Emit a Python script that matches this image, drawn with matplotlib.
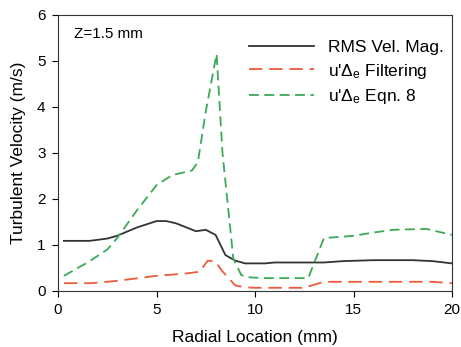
import numpy as np
import matplotlib
matplotlib.use("Agg")
import matplotlib.pyplot as plt

plt.rcParams['font.family'] = ['Liberation Sans', 'DejaVu Sans']
plt.rcParams['mathtext.fontset'] = 'custom'
plt.rcParams['mathtext.rm'] = 'Liberation Sans'
plt.rcParams['mathtext.it'] = 'Liberation Sans'

# RMS velocity magnitude
x_rms = [0.3, 1.6, 2.5, 3.0, 4.0, 5.0, 5.5, 6.0, 7.0, 7.5, 8.0, 8.5, 9.0, 9.5, 10.5, 11.0, 13.5, 14.5, 16.0, 18.0, 19.0, 20.0]
rms = [1.09, 1.09, 1.14, 1.2, 1.38, 1.52, 1.52, 1.47, 1.3, 1.33, 1.22, 0.78, 0.66, 0.6, 0.6, 0.62, 0.62, 0.65, 0.67, 0.67, 0.65, 0.6]

# u' filtering
x_filt = [0.3, 1.7, 3.0, 5.0, 6.5, 7.2, 7.6, 8.0, 8.3, 9.0, 9.5, 10.0, 12.5, 12.8, 13.5, 19.0, 20.0]
filt = [0.17, 0.17, 0.22, 0.33, 0.38, 0.42, 0.66, 0.64, 0.45, 0.12, 0.08, 0.07, 0.07, 0.11, 0.2, 0.2, 0.17]

# u' Eqn. 8
x_eqn = [0.3, 1.5, 2.5, 3.0, 4.0, 5.0, 5.8, 6.8, 7.1, 7.5, 8.05, 8.35, 8.9, 9.3, 9.6, 10.5, 12.7, 13.5, 15.0, 16.0, 17.0, 18.7, 20.0]
eqn = [0.33, 0.62, 0.9, 1.15, 1.75, 2.3, 2.52, 2.62, 2.8, 3.9, 5.15, 3.0, 0.7, 0.35, 0.3, 0.28, 0.28, 1.15, 1.2, 1.27, 1.33, 1.35, 1.22]

fig = plt.figure(figsize=(4.61, 3.47), dpi=100)
ax = fig.add_axes([58/461, 1 - 291/347, 394/461, 276/347])

ax.plot(x_rms, rms, color='#333333', linewidth=1.3, label='RMS Vel. Mag.')
ax.plot(x_filt, filt, color='#ee5a3a', linewidth=1.3, dashes=(7.4, 3.8), label=r"u'$\Delta_{\mathrm{e}}$ Filtering")
ax.plot(x_eqn, eqn, color='#3aaa55', linewidth=1.3, dashes=(5.5, 3), label=r"u'$\Delta_{\mathrm{e}}$ Eqn. 8")

ax.set_xlim(0, 20)
ax.set_ylim(0, 6)
ax.set_xticks([0, 5, 10, 15, 20])
ax.set_yticks([0, 1, 2, 3, 4, 5, 6])
ax.tick_params(direction='out', length=4, labelsize=11, pad=5)
ax.set_xlabel('Radial Location (mm)', fontsize=12.5, labelpad=9)
ax.set_ylabel('Turbulent Velocity (m/s)', fontsize=12.5, labelpad=8)
for s in ax.spines.values():
    s.set_color('#333333')

ax.text(0.04, 0.955, 'Z=1.5 mm', transform=ax.transAxes, fontsize=11, va='top')
ax.legend(loc='upper right', bbox_to_anchor=(1.02, 0.965), frameon=False, fontsize=12.5,
          handlelength=3.8, handletextpad=0.8, labelspacing=0.35)

plt.savefig('out.png', dpi=100)
